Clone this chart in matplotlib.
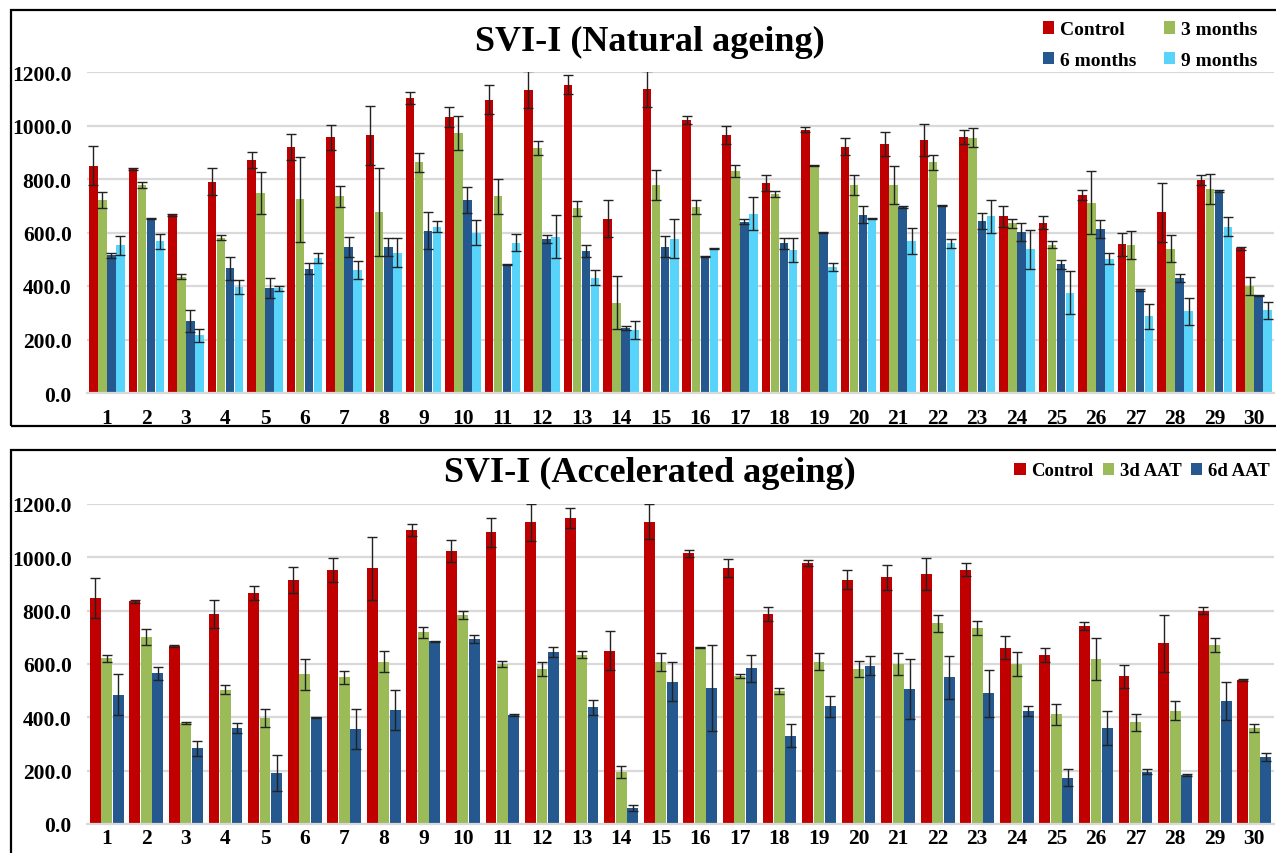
import numpy as np
import matplotlib
matplotlib.use("Agg")
import matplotlib.pyplot as plt
from matplotlib.patches import Rectangle

plt.rcParams["font.family"] = ["Liberation Serif", "DejaVu Serif"]
plt.rcParams["font.weight"] = "bold"

samples = [str(i) for i in range(1, 31)]

# ---- natural ageing (means, error) ----
nat_control = [850, 837, 666, 790, 871, 921, 956, 964, 1102, 1031, 1097, 1134, 1152, 652, 1137,
               1021, 965, 785, 985, 921, 930, 945, 957, 661, 637, 740, 556, 675, 797, 541]
nat_control_err = [72, 5, 5, 50, 30, 49, 46, 110, 23, 38, 55, 68, 35, 70, 66,
                   14, 35, 31, 10, 33, 45, 59, 28, 39, 23, 19, 44, 109, 19, 5]
nat_3m = [722, 777, 435, 581, 747, 725, 735, 677, 862, 972, 735, 915, 690, 337, 777,
          696, 829, 744, 849, 777, 777, 862, 955, 635, 555, 712, 554, 540, 762, 400]
nat_3m_err = [30, 12, 8, 10, 78, 159, 39, 164, 35, 62, 65, 27, 27, 99, 57,
              26, 23, 11, 2, 38, 70, 28, 36, 17, 14, 117, 53, 51, 57, 32]
nat_6m = [515, 652, 270, 466, 393, 465, 547, 546, 606, 721, 479, 575, 531, 242, 547,
          512, 641, 560, 600, 667, 695, 701, 644, 602, 481, 612, 385, 430, 755, 365]
nat_6m_err = [10, 2, 42, 42, 38, 20, 37, 34, 69, 49, 2, 16, 21, 8, 40,
              2, 9, 21, 3, 33, 3, 3, 30, 33, 16, 33, 3, 16, 3, 3]
nat_9m = [552, 568, 215, 396, 391, 504, 460, 525, 622, 600, 562, 585, 431, 235, 577,
          540, 671, 534, 472, 652, 567, 559, 660, 537, 375, 502, 287, 306, 622, 310]
nat_9m_err = [35, 28, 25, 25, 9, 18, 35, 54, 20, 45, 32, 82, 29, 34, 72,
              3, 63, 46, 15, 2, 48, 18, 61, 72, 80, 20, 47, 50, 35, 32]

# ---- accelerated ageing ----
acc_control = [846, 835, 666, 787, 867, 915, 951, 959, 1102, 1025, 1094, 1131, 1147, 650, 1134,
               1015, 960, 787, 979, 916, 925, 937, 954, 661, 634, 741, 554, 677, 799, 540]
acc_control_err = [75, 6, 4, 52, 27, 50, 45, 118, 23, 41, 55, 69, 37, 72, 66,
                   14, 32, 25, 11, 36, 46, 59, 25, 43, 27, 15, 43, 107, 13, 4]
acc_3d = [622, 702, 379, 504, 397, 561, 550, 609, 719, 784, 600, 581, 634, 194, 606,
          662, 554, 500, 609, 581, 600, 752, 734, 600, 411, 619, 381, 425, 671, 360]
acc_3d_err = [13, 29, 3, 17, 34, 58, 24, 38, 21, 16, 11, 25, 13, 22, 34,
              3, 8, 11, 31, 29, 40, 33, 26, 44, 39, 78, 33, 35, 26, 15]
acc_6d = [484, 565, 284, 360, 190, 400, 356, 429, 685, 694, 409, 644, 437, 60, 534,
          510, 584, 331, 441, 594, 506, 550, 491, 424, 174, 361, 196, 184, 461, 251]
acc_6d_err = [77, 24, 28, 17, 67, 2, 74, 75, 2, 16, 4, 18, 29, 11, 72,
              160, 50, 44, 38, 37, 111, 81, 88, 18, 32, 64, 10, 3, 70, 15]

RED, GREEN, DBLUE, CYAN = "#C00000", "#9BBB59", "#24588E", "#58D4FA"

fig = plt.figure(figsize=(12.76, 8.54), dpi=100)
W, H = 1276.0, 854.0

# panel borders
fig.patches.append(Rectangle((11 / W, 1 - 427 / H), 1.0, 416 / H, transform=fig.transFigure,
                             fill=False, ec="black", lw=1.6, zorder=0))
fig.patches.append(Rectangle((11 / W, -0.05), 1.0, 1 - 451 / H + 0.05, transform=fig.transFigure,
                             fill=False, ec="black", lw=1.6, zorder=0))


def panel(ax, series, width, step, xpad):
    x = np.arange(len(samples))
    n = len(series)
    for k, (vals, err, col, lab) in enumerate(series):
        off = (k - (n - 1) / 2) * step
        ax.bar(x + off, vals, width, color=col, label=lab, zorder=2)
        ax.errorbar(x + off, vals, yerr=err, fmt="none", ecolor="#222222",
                    elinewidth=1.0, capsize=3.5, capthick=1.0, zorder=3)
    ax.set_xlim(-0.5, len(samples) - 0.5)
    ax.set_ylim(0, 1200)
    ax.set_yticks(np.arange(0, 1201, 200))
    ax.set_yticklabels(["%.1f" % v for v in np.arange(0, 1201, 200)], fontsize=15.5, fontweight="bold")
    ax.set_xticks(x)
    ax.set_xticklabels(samples, fontsize=15.5, fontweight="bold")
    ax.tick_params(length=0)
    ax.tick_params(axis="y", pad=11)
    ax.tick_params(axis="x", pad=xpad)
    ax.grid(axis="y", color="#D9D9D9", lw=1.6, zorder=0)
    ax.set_axisbelow(True)
    for s in ("top", "right", "left"):
        ax.spines[s].set_visible(False)
    ax.spines["bottom"].set_color("#D9D9D9")
    ax.spines["bottom"].set_linewidth(1.6)


ax1 = fig.add_axes([87 / W, 1 - 394 / H, 1187 / W, 321 / H])
panel(ax1, [(nat_control, nat_control_err, RED, "Control"),
            (nat_3m, nat_3m_err, GREEN, "3 months"),
            (nat_6m, nat_6m_err, DBLUE, "6 months"),
            (nat_9m, nat_9m_err, CYAN, "9 months")], 0.215, 0.228, 11)
fig.text(650 / W, 1 - 42 / H, "SVI-I (Natural ageing)", ha="center", va="center",
         fontsize=26, fontweight="bold")
h, l = ax1.get_legend_handles_labels()
order = [0, 2, 1, 3]
ax1.legend([h[i] for i in order], [l[i] for i in order], ncol=2, loc="center",
           bbox_to_anchor=(1150 / W, 1 - 46 / H), bbox_transform=fig.transFigure,
           frameon=False, handlelength=0.6, handleheight=0.6, handletextpad=0.3,
           columnspacing=1.4, labelspacing=0.7, prop={"weight": "bold", "size": 14})

ax2 = fig.add_axes([87 / W, 1 - 825 / H, 1187 / W, 320 / H])
panel(ax2, [(acc_control, acc_control_err, RED, "Control"),
            (acc_3d, acc_3d_err, GREEN, "3d AAT"),
            (acc_6d, acc_6d_err, DBLUE, "6d AAT")], 0.275, 0.29, 3)
fig.text(650 / W, 1 - 473 / H, "SVI-I (Accelerated ageing)", ha="center", va="center",
         fontsize=26, fontweight="bold")
ax2.legend(ncol=3, loc="center", bbox_to_anchor=(1142 / W, 1 - 472 / H), bbox_transform=fig.transFigure,
           frameon=False, handlelength=0.6, handleheight=0.6, handletextpad=0.3,
           columnspacing=0.5, prop={"weight": "bold", "size": 13.5})

fig.savefig("out.png", dpi=100)
